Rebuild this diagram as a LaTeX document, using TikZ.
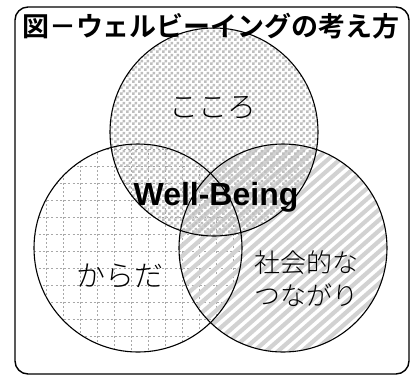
\documentclass[tikz,border=0pt]{standalone}
\usepackage{fontspec}
\newfontfamily\jp{Noto Sans CJK JP}[BoldFont={Noto Sans CJK JP Bold}]
\newfontfamily\jplight{Noto Sans CJK JP Light}
\newfontfamily\arialb{Liberation Sans Bold}
\usetikzlibrary{patterns}
\pgfdeclarepatternformonly{checker}{\pgfpointorigin}{\pgfqpoint{6pt}{6pt}}{\pgfqpoint{6pt}{6pt}}{%
  \pgfpathrectangle{\pgfpointorigin}{\pgfqpoint{3pt}{3pt}}%
  \pgfpathrectangle{\pgfqpoint{3pt}{3pt}}{\pgfqpoint{3pt}{3pt}}%
  \pgfusepath{fill}%
}
\definecolor{checkgray}{HTML}{BEBEBE}
\definecolor{gridgray}{HTML}{A8A8A8}
\definecolor{stripegray}{HTML}{D2D2D2}
\tikzset{
  ring/.style={draw=black, line width=1.1pt},
  frame/.style={draw=black, line width=1.4pt, rounded corners=13pt},
  lbl/.style={font=\jplight\fontsize{29}{33}\selectfont, inner sep=0pt, align=center},
  ttl/.style={font=\jp\bfseries\fontsize{27}{32}\selectfont, inner sep=0pt},
  wb/.style={font=\arialb\fontsize{32}{36}\selectfont, inner sep=0pt},
}
\begin{document}
\begin{tikzpicture}[x=1pt,y=-1pt]
\useasboundingbox (0,0) rectangle (415,376);
\fill[white] (0,0) rectangle (415,376);
\coordinate (ct) at (214,132);
\coordinate (cl) at (138,248);
\coordinate (cr) at (283,248);
% left circle: dashed grid
\begin{scope}
  \clip (cl) circle (104);
  \foreach \x in {29,46,...,250} \draw[gridgray, line width=1pt, dash pattern=on 2pt off 2.25pt] (\x,140) -- (\x,360);
  \foreach \y in {149,166,...,360} \draw[gridgray, line width=1pt, dash pattern=on 2pt off 2.25pt] (30,\y) -- (250,\y);
\end{scope}
% right circle: diagonal stripes
\begin{scope}
  \clip (cr) circle (104);
  \foreach \k in {0,...,40} \draw[stripegray, line width=4.2pt] (170+\k*12-250,360) -- (170+\k*12,140);
\end{scope}
% top circle: checker
\fill[pattern=checker, pattern color=checkgray] (ct) circle (104);
% outlines
\draw[ring] (cl) circle (104);
\draw[ring] (cr) circle (104);
\draw[ring] (ct) circle (104);
% frame
\draw[frame] (15,7) rectangle (409,374);
% texts
\node[ttl] (title) at (211,26) {図－ウェルビーイングの考え方};
\node[lbl] (kokoro) at (213,108) {こころ};
\node[wb] (wellbeing) at (216,197) {Well-Being};
\node[lbl] (karada) at (120,276) {からだ};
\node[lbl, font=\jplight\fontsize{26}{33}\selectfont] (shakai) at (306,279) {社会的な\\つながり};
\end{tikzpicture}
\end{document}
